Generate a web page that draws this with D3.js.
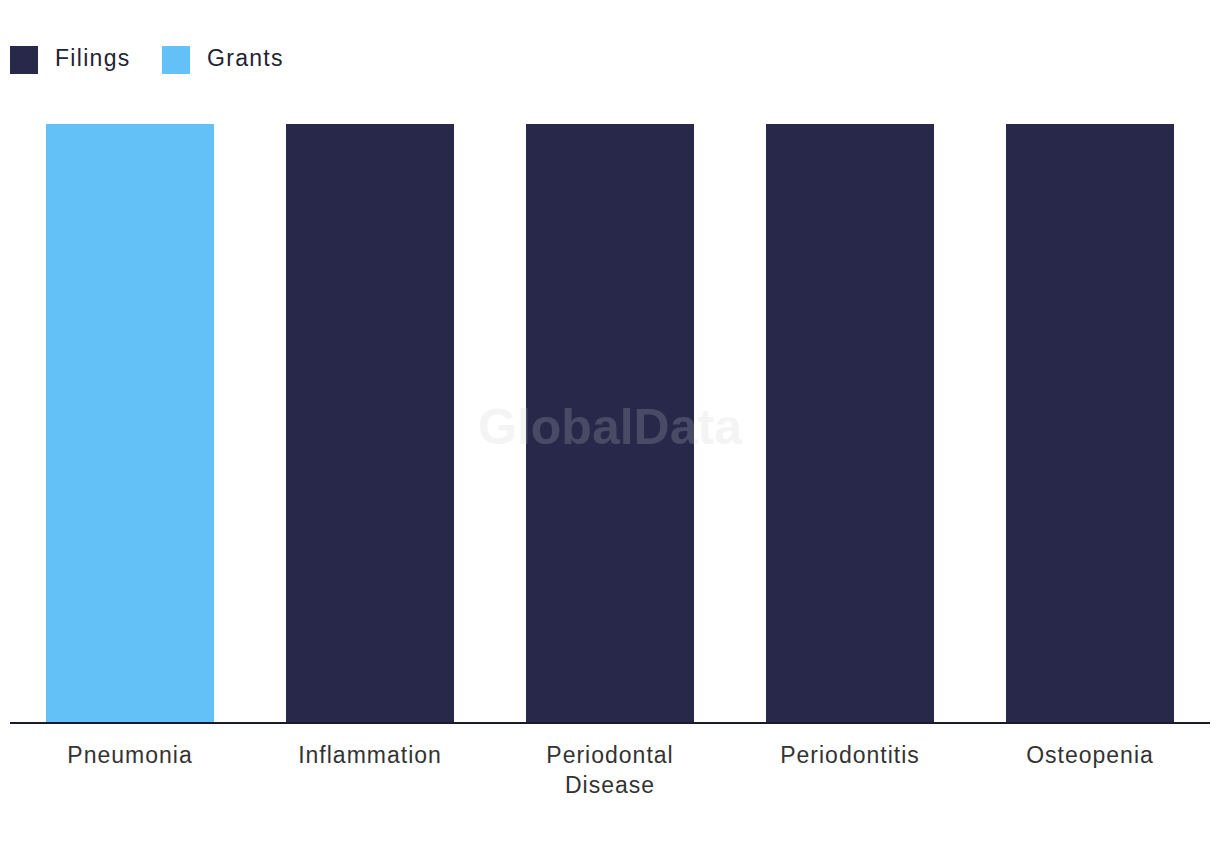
<!DOCTYPE html>
<html>
<head>
<meta charset="utf-8">
<script src="https://cdn.jsdelivr.net/npm/d3@7"></script>
<style>
  html, body { margin: 0; padding: 0; background: #ffffff; }
  svg { display: block; font-family: "Liberation Sans", Arial, sans-serif; }
</style>
</head>
<body>
<svg id="chart" width="1220" height="850"></svg>
<script>
const categories = ["Pneumonia", "Inflammation", "Periodontal Disease", "Periodontitis", "Osteopenia"];
const seriesNames = ["Filings", "Grants"];
const filings = [0, 1, 1, 1, 1];
const grants  = [1, 0, 0, 0, 0];
const colors = ["#27284a", "#63c1f8"];

const svg = d3.select("#chart");
const W = 1220, H = 850;
const margin = { left: 10, right: 10, top: 124, bottom: 127 };
const baseY = H - margin.bottom;

const x = d3.scaleBand().domain(categories).range([margin.left, W - margin.right])
  .paddingInner(0.3).paddingOuter(0.15);
const y = d3.scaleLinear().domain([0, 1]).range([baseY, margin.top]);

const rows = categories.map((c, i) => ({ cat: c, Filings: filings[i], Grants: grants[i] }));
const stacked = d3.stack().keys(seriesNames)(rows);

svg.append("g").selectAll("g").data(stacked).join("g")
  .attr("fill", (d, i) => colors[i])
  .selectAll("rect").data(d => d.map(v => ({ v, cat: v.data.cat }))).join("rect")
  .attr("x", d => x(d.cat))
  .attr("width", x.bandwidth())
  .attr("y", d => y(d.v[1]))
  .attr("height", d => y(d.v[0]) - y(d.v[1]));

// watermark
svg.append("text")
  .attr("x", 610).attr("y", 444)
  .attr("text-anchor", "middle")
  .attr("font-family", "Liberation Sans, Arial, sans-serif")
  .attr("font-weight", "bold")
  .attr("font-size", 50)
  .attr("fill", "#cbcbcb")
  .attr("fill-opacity", 0.21)
  .text("GlobalData");

// axis
const axis = svg.append("g").attr("transform", `translate(0,${baseY})`)
  .call(d3.axisBottom(x).tickSize(0).tickPadding(0).tickFormat(""));
axis.select(".domain").attr("stroke", "#1a1a2e").attr("stroke-width", 2)
  .attr("d", `M${margin.left},0H${W - margin.right}`);

const labelWrap = { "Periodontal Disease": ["Periodontal", "Disease"] };
const lbl = svg.append("g");
categories.forEach(c => {
  const lines = labelWrap[c] || [c];
  const t = lbl.append("text")
    .attr("x", x(c) + x.bandwidth() / 2)
    .attr("y", baseY + 40)
    .attr("text-anchor", "middle")
    .attr("font-size", 23)
    .attr("letter-spacing", 1.0)
    .attr("fill", "#333333");
  lines.forEach((l, i) => {
    t.append("tspan").attr("x", x(c) + x.bandwidth() / 2).attr("dy", i === 0 ? 0 : 30).text(l);
  });
});

// legend
const legend = svg.append("g");
const legendX = [10, 162];
seriesNames.forEach((s, i) => {
  legend.append("rect").attr("x", legendX[i]).attr("y", 46).attr("width", 28).attr("height", 28)
    .attr("fill", colors[i]);
  legend.append("text").attr("x", legendX[i] + 45).attr("y", 66)
    .attr("font-size", 23).attr("letter-spacing", 1.3).attr("fill", "#222233").text(s);
});
</script>
</body>
</html>
